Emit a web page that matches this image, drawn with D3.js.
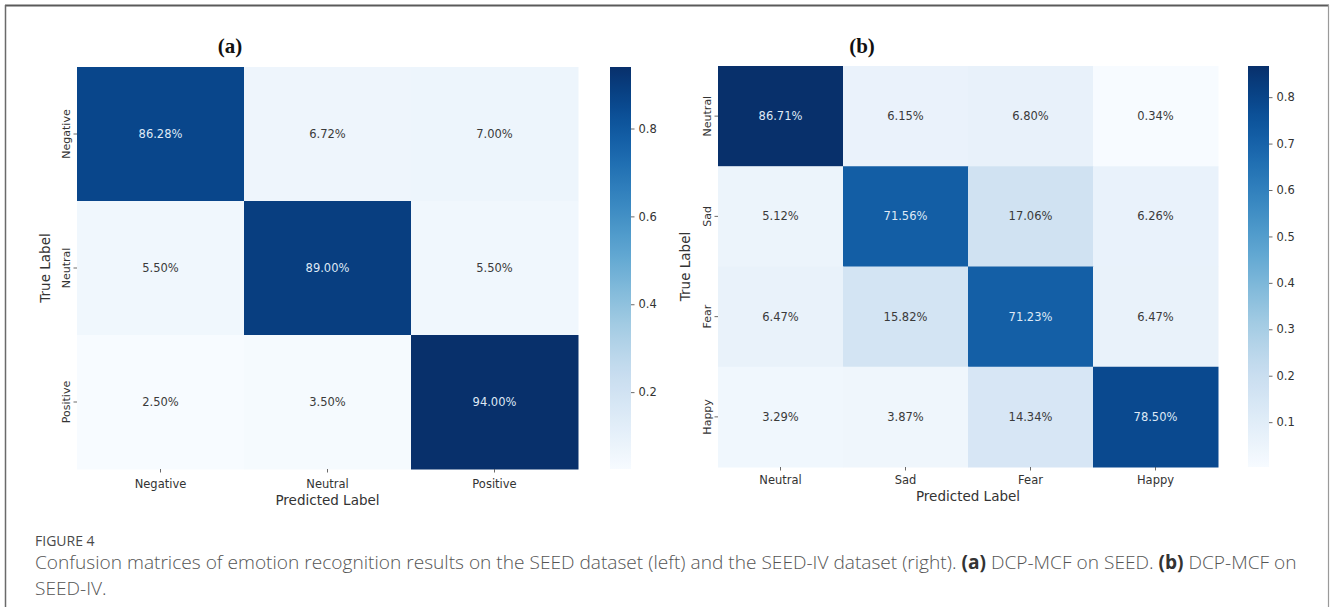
<!DOCTYPE html>
<html>
<head>
<meta charset="utf-8">
<script src="https://cdn.jsdelivr.net/npm/d3@7"></script>
<style>
  body { margin: 0; background: #fff; }
  svg { display: block; }
</style>
</head>
<body>
<svg id="fig" width="1330" height="607"></svg>
<script>
// SEED (3 classes) confusion matrix, row = true label, column = predicted label (%)
const seedLabels = ["Negative", "Neutral", "Positive"];
const seedValues = [
  [86.28, 6.72, 7.00],
  [5.50, 89.00, 5.50],
  [2.50, 3.50, 94.00]
];
const seedTicks = [0.2, 0.4, 0.6, 0.8];

// SEED-IV (4 classes) confusion matrix (%)
const seedIVLabels = ["Neutral", "Sad", "Fear", "Happy"];
const seedIVValues = [
  [86.71, 6.15, 6.80, 0.34],
  [5.12, 71.56, 17.06, 6.26],
  [6.47, 15.82, 71.23, 6.47],
  [3.29, 3.87, 14.34, 78.50]
];
const seedIVTicks = [0.1, 0.2, 0.3, 0.4, 0.5, 0.6, 0.7, 0.8];

const svg = d3.select("#fig");
const FONT = "'DejaVu Sans', sans-serif";

// outer frame
svg.append("line").attr("x1", 5).attr("x2", 1329).attr("y1", 5.5).attr("y2", 5.5)
  .attr("stroke", "#5a5a5a").attr("stroke-width", 2);
svg.append("line").attr("x1", 5.5).attr("x2", 5.5).attr("y1", 5).attr("y2", 607)
  .attr("stroke", "#6a6a6a").attr("stroke-width", 1.5);
svg.append("line").attr("x1", 1328.5).attr("x2", 1328.5).attr("y1", 5).attr("y2", 607)
  .attr("stroke", "#9a9a9a").attr("stroke-width", 1.2);

const defs = svg.append("defs");

function luminance(c) {
  const rgb = d3.rgb(c);
  const f = v => { v /= 255; return v <= 0.03928 ? v / 12.92 : Math.pow((v + 0.055) / 1.055, 2.4); };
  return 0.2126 * f(rgb.r) + 0.7152 * f(rgb.g) + 0.0722 * f(rgb.b);
}

function drawMatrix(cfg) {
  const { id, labels, values, ticks, x0, x1, y0, y1, cbX, cbW, title, titleX, xLabelY, xTitleY, yTitleX } = cfg;
  const flat = values.flat().map(v => v / 100);
  const vmin = d3.min(flat), vmax = d3.max(flat);
  const color = d3.scaleSequential(d3.interpolateBlues).domain([vmin, vmax]);

  const x = d3.scaleBand().domain(labels).range([x0, x1]);
  const y = d3.scaleBand().domain(labels).range([y0, y1]);

  const g = svg.append("g");

  const cells = [];
  values.forEach((row, i) => row.forEach((v, j) => cells.push({ t: labels[i], p: labels[j], v })));

  g.selectAll("rect.cell").data(cells).join("rect")
    .attr("class", "cell")
    .attr("x", d => x(d.p))
    .attr("y", d => y(d.t))
    .attr("width", x.bandwidth() + 0.5)
    .attr("height", y.bandwidth() + 0.5)
    .attr("fill", d => color(d.v / 100));

  g.selectAll("text.val").data(cells).join("text")
    .attr("class", "val")
    .attr("x", d => x(d.p) + x.bandwidth() / 2)
    .attr("y", d => y(d.t) + y.bandwidth() / 2)
    .attr("dy", "0.35em")
    .attr("text-anchor", "middle")
    .attr("font-family", FONT)
    .attr("font-size", 11.5)
    .attr("fill", d => luminance(color(d.v / 100)) > 0.408 ? "#3a3a3a" : "#dfe9f6")
    .text(d => d.v.toFixed(2) + "%");

  // x axis
  const xa = svg.append("g").attr("transform", `translate(0,${y1})`)
    .call(d3.axisBottom(x).tickSize(3.5).tickSizeOuter(0).tickPadding(4));
  xa.select(".domain").remove();
  xa.selectAll(".tick line").attr("stroke", "#444").attr("stroke-width", 0.8);
  xa.selectAll(".tick text").attr("font-family", FONT).attr("font-size", 11.5).attr("fill", "#333")
    .attr("y", xLabelY - y1).attr("dy", "0.35em");

  // y axis with rotated tick labels
  const ya = svg.append("g").attr("transform", `translate(${x0},0)`)
    .call(d3.axisLeft(y).tickSize(3.5).tickSizeOuter(0));
  ya.select(".domain").remove();
  ya.selectAll(".tick line").attr("stroke", "#444").attr("stroke-width", 0.8);
  ya.selectAll(".tick text").attr("font-family", FONT).attr("font-size", 11).attr("fill", "#333")
    .attr("transform", "rotate(-90)")
    .attr("x", 0).attr("y", -7).attr("dy", 0)
    .attr("text-anchor", "middle");

  // axis titles
  svg.append("text")
    .attr("x", (x0 + x1) / 2).attr("y", xTitleY).attr("dy", "0.35em")
    .attr("text-anchor", "middle")
    .attr("font-family", FONT).attr("font-size", 13.5).attr("fill", "#333")
    .text("Predicted Label");
  svg.append("text")
    .attr("transform", `translate(${yTitleX},${(y0 + y1) / 2}) rotate(-90)`)
    .attr("text-anchor", "middle").attr("dy", "0.35em")
    .attr("font-family", FONT).attr("font-size", 13.5).attr("fill", "#333")
    .text("True Label");

  // panel title
  svg.append("text")
    .attr("x", titleX).attr("y", 53)
    .attr("text-anchor", "middle")
    .attr("font-family", "'Liberation Serif', 'Times New Roman', serif")
    .attr("font-weight", "bold").attr("font-size", 21).attr("fill", "#111")
    .text(title);

  // colorbar
  const cb = d3.scaleLinear().domain([vmin, vmax]).range([y1, y0]);
  const grad = defs.append("linearGradient").attr("id", id)
    .attr("x1", 0).attr("x2", 0).attr("y1", 1).attr("y2", 0);
  d3.range(0, 1.0001, 0.02).forEach(t => {
    grad.append("stop").attr("offset", t).attr("stop-color", color(vmin + t * (vmax - vmin)));
  });
  svg.append("rect").attr("x", cbX).attr("y", y0).attr("width", cbW).attr("height", y1 - y0)
    .attr("fill", `url(#${id})`);
  const ca = svg.append("g").attr("transform", `translate(${cbX + cbW},0)`)
    .call(d3.axisRight(cb).tickValues(ticks).tickFormat(d3.format(".1f")).tickSize(3.5).tickPadding(4));
  ca.select(".domain").remove();
  ca.selectAll(".tick line").attr("stroke", "#444").attr("stroke-width", 0.8);
  ca.selectAll(".tick text").attr("font-family", FONT).attr("font-size", 11.5).attr("fill", "#333");
}

drawMatrix({
  id: "cbA", labels: seedLabels, values: seedValues, ticks: seedTicks,
  x0: 77, x1: 578, y0: 67, y1: 469, cbX: 610, cbW: 21,
  title: "(a)", titleX: 230, xLabelY: 484, xTitleY: 500, yTitleX: 45
});
drawMatrix({
  id: "cbB", labels: seedIVLabels, values: seedIVValues, ticks: seedIVTicks,
  x0: 718, x1: 1218, y0: 66, y1: 467, cbX: 1248, cbW: 21,
  title: "(b)", titleX: 862, xLabelY: 480, xTitleY: 496, yTitleX: 685
});

// figure caption
const CAP = "'Open Sans', 'Lato', sans-serif";
svg.append("text")
  .attr("x", 35).attr("y", 546)
  .attr("font-family", CAP).attr("font-size", 14).attr("fill", "#4a4a4a")
  .text("FIGURE 4");

const line1 = svg.append("text")
  .attr("x", 35).attr("y", 569)
  .attr("font-family", CAP).attr("font-size", 16.5).attr("fill", "#555")
  .attr("font-weight", 300);
line1.append("tspan").text("Confusion matrices of emotion recognition results on the SEED dataset (left) and the SEED-IV dataset (right). ");
line1.append("tspan").attr("font-weight", 700).attr("fill", "#333").text("(a)");
line1.append("tspan").text(" DCP-MCF on SEED. ");
line1.append("tspan").attr("font-weight", 700).attr("fill", "#333").text("(b)");
line1.append("tspan").text(" DCP-MCF on");

const line2 = svg.append("text")
  .attr("x", 35).attr("y", 595)
  .attr("font-family", CAP).attr("font-size", 16.5).attr("fill", "#555")
  .attr("font-weight", 300)
  .text("SEED-IV.");

// fit the first caption line to the text column width
const targetW = 1262;
const w = line1.node().getComputedTextLength();
if (w > 0) {
  const fs = 16.5 * targetW / w;
  line1.attr("font-size", fs);
  line2.attr("font-size", fs);
}
</script>
</body>
</html>
